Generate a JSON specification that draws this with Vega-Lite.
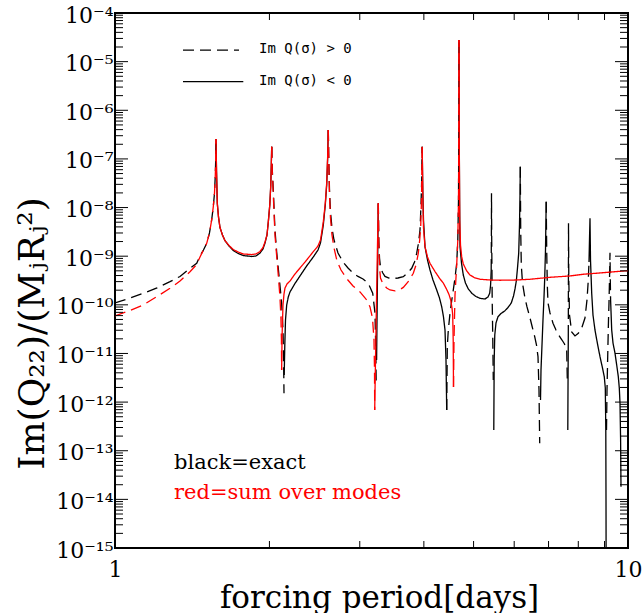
{
"$schema": "https://vega.github.io/schema/vega-lite/v6.json",
"width": 513, "height": 535,
"autosize": {"type": "none"},
"padding": {"left": 115, "top": 13, "right": 14, "bottom": 65},
"background": "white",
"config": {
  "view": {"stroke": "black", "strokeWidth": 2},
  "axis": {"domain": false, "grid": false, "ticks": false, "labelFlush": false, "labelOverlap": false, "labelColor": "black", "titleColor": "black", "labelFont": "DejaVu Serif", "titleFont": "DejaVu Serif", "titleFontWeight": "normal"}
},
"datasets": {
"exact": [
{"s":"e1","g":"pos","P":1,"V":1.09e-10},{"s":"e1","g":"pos","P":1.0697,"V":1.38e-10},{"s":"e1","g":"pos","P":1.1355,"V":1.73e-10},{"s":"e1","g":"pos","P":1.2074,"V":2.22e-10},{"s":"e1","g":"pos","P":1.28,"V":2.99e-10},{"s":"e1","g":"pos","P":1.3388,"V":3.83e-10},{"s":"e1","g":"pos","P":1.4002,"V":5.64e-10},{"s":"e1","g":"pos","P":1.443,"V":7.14e-10},{"s":"e1","g":"pos","P":1.4645,"V":1.009e-9},{"s":"e1","g":"pos","P":1.4875,"V":1.34e-9},{"s":"e1","g":"pos","P":1.5092,"V":1.84e-9},{"s":"e1","g":"pos","P":1.5282,"V":3.0e-9},{"s":"e1","g":"pos","P":1.5432,"V":5.55e-9},{"s":"e1","g":"pos","P":1.5545,"V":1.04e-8},{"s":"e1","g":"pos","P":1.563,"V":1.99e-8},{"s":"e1","g":"pos","P":1.5687,"V":4.67e-8},{"s":"e1","g":"pos","P":1.5715,"V":9.51e-8},{"s":"e1","g":"pos","P":1.5736,"V":2.57e-7},
{"s":"e2","g":"neg","P":1.5736,"V":2.57e-7},{"s":"e2","g":"neg","P":1.5771,"V":5.92e-8},{"s":"e2","g":"neg","P":1.5828,"V":1.22e-8},{"s":"e2","g":"neg","P":1.5913,"V":6.4e-9},{"s":"e2","g":"neg","P":1.6019,"V":3.89e-9},{"s":"e2","g":"neg","P":1.6198,"V":2.73e-9},{"s":"e2","g":"neg","P":1.6377,"V":2.1e-9},{"s":"e2","g":"neg","P":1.6681,"V":1.62e-9},{"s":"e2","g":"neg","P":1.7006,"V":1.31e-9},{"s":"e2","g":"neg","P":1.7369,"V":1.14e-9},{"s":"e2","g":"neg","P":1.7787,"V":1.03e-9},{"s":"e2","g":"neg","P":1.847,"V":9.86e-10},{"s":"e2","g":"neg","P":1.883,"V":1.01e-9},{"s":"e2","g":"neg","P":1.9171,"V":1.16e-9},{"s":"e2","g":"neg","P":1.9431,"V":1.41e-9},{"s":"e2","g":"neg","P":1.9607,"V":1.87e-9},{"s":"e2","g":"neg","P":1.9783,"V":2.73e-9},{"s":"e2","g":"neg","P":1.9899,"V":5.05e-9},{"s":"e2","g":"neg","P":2.0033,"V":1.13e-8},{"s":"e2","g":"neg","P":2.0115,"V":2.69e-8},{"s":"e2","g":"neg","P":2.0169,"V":7.5e-8},{"s":"e2","g":"neg","P":2.0205,"V":1.78e-7},
{"s":"e3","g":"pos","P":2.0205,"V":1.78e-7},{"s":"e3","g":"pos","P":2.0259,"V":5.92e-8},{"s":"e3","g":"pos","P":2.035,"V":2.3e-8},{"s":"e3","g":"pos","P":2.0505,"V":3.46e-9},{"s":"e3","g":"pos","P":2.0661,"V":1.22e-9},{"s":"e3","g":"pos","P":2.0808,"V":5.71e-10},{"s":"e3","g":"pos","P":2.0966,"V":2.56e-10},{"s":"e3","g":"pos","P":2.1125,"V":1.09e-10},{"s":"e3","g":"pos","P":2.1256,"V":3.04e-11},{"s":"e3","g":"pos","P":2.1314,"V":7.35e-12},{"s":"e3","g":"pos","P":2.1352,"V":1.52e-12},
{"s":"e4","g":"neg","P":2.1371,"V":3.61e-12},{"s":"e4","g":"neg","P":2.1429,"V":1.49e-11},{"s":"e4","g":"neg","P":2.1496,"V":4.88e-11},{"s":"e4","g":"neg","P":2.1612,"V":9.93e-11},{"s":"e4","g":"neg","P":2.1766,"V":1.45e-10},{"s":"e4","g":"neg","P":2.1935,"V":1.84e-10},{"s":"e4","g":"neg","P":2.2433,"V":2.75e-10},{"s":"e4","g":"neg","P":2.2941,"V":3.92e-10},{"s":"e4","g":"neg","P":2.3642,"V":6.3e-10},{"s":"e4","g":"neg","P":2.4353,"V":9.64e-10},{"s":"e4","g":"neg","P":2.4872,"V":1.34e-9},{"s":"e4","g":"neg","P":2.5152,"V":1.87e-9},{"s":"e4","g":"neg","P":2.5471,"V":4.38e-9},{"s":"e4","g":"neg","P":2.57,"V":1.13e-8},{"s":"e4","g":"neg","P":2.5863,"V":2.91e-8},{"s":"e4","g":"neg","P":2.5967,"V":9.51e-8},{"s":"e4","g":"neg","P":2.6049,"V":3.94e-7},
{"s":"e5","g":"pos","P":2.6049,"V":3.94e-7},{"s":"e5","g":"pos","P":2.6107,"V":9.51e-8},{"s":"e5","g":"pos","P":2.6189,"V":2.3e-8},{"s":"e5","g":"pos","P":2.6306,"V":8.11e-9},{"s":"e5","g":"pos","P":2.6482,"V":3.8e-9},{"s":"e5","g":"pos","P":2.6724,"V":2.15e-9},{"s":"e5","g":"pos","P":2.7208,"V":1.16e-9},{"s":"e5","g":"pos","P":2.7825,"V":7.6e-10},{"s":"e5","g":"pos","P":2.8457,"V":5.71e-10},{"s":"e5","g":"pos","P":2.9103,"V":4.52e-10},{"s":"e5","g":"pos","P":2.9763,"V":3.83e-10},{"s":"e5","g":"pos","P":3.0439,"V":3.4e-10},{"s":"e5","g":"pos","P":3.1171,"V":2.77e-10},{"s":"e5","g":"pos","P":3.1794,"V":1.73e-10},{"s":"e5","g":"pos","P":3.2123,"V":6.7e-11},{"s":"e5","g":"pos","P":3.2239,"V":1.18e-11},{"s":"e5","g":"pos","P":3.2297,"V":2.25e-12},
{"s":"e6","g":"neg","P":3.2355,"V":7.35e-12},{"s":"e6","g":"neg","P":3.2413,"V":4.88e-11},{"s":"e6","g":"neg","P":3.25,"V":6.59e-10},{"s":"e6","g":"neg","P":3.2604,"V":1.22e-8},
{"s":"e7","g":"pos","P":3.2604,"V":1.22e-8},{"s":"e7","g":"pos","P":3.2677,"V":2.15e-9},{"s":"e7","g":"pos","P":3.278,"V":9.18e-10},{"s":"e7","g":"pos","P":3.2926,"V":6.0e-10},{"s":"e7","g":"pos","P":3.3226,"V":4.62e-10},{"s":"e7","g":"pos","P":3.3598,"V":3.83e-10},{"s":"e7","g":"pos","P":3.4206,"V":3.56e-10},{"s":"e7","g":"pos","P":3.4874,"V":3.48e-10},{"s":"e7","g":"pos","P":3.5617,"V":3.56e-10},{"s":"e7","g":"pos","P":3.6475,"V":3.79e-10},{"s":"e7","g":"pos","P":3.7252,"V":4.62e-10},{"s":"e7","g":"pos","P":3.7876,"V":5.64e-10},{"s":"e7","g":"pos","P":3.8355,"V":7.6e-10},{"s":"e7","g":"pos","P":3.8736,"V":1.15e-9},{"s":"e7","g":"pos","P":3.905,"V":1.87e-9},{"s":"e7","g":"pos","P":3.9313,"V":3.46e-9},{"s":"e7","g":"pos","P":3.949,"V":1.13e-8},{"s":"e7","g":"pos","P":3.9615,"V":3.69e-8},{"s":"e7","g":"pos","P":3.9704,"V":1.78e-7},
{"s":"e8","g":"neg","P":3.9704,"V":1.78e-7},{"s":"e8","g":"neg","P":3.9811,"V":2.3e-8},{"s":"e8","g":"neg","P":3.9936,"V":5.55e-9},{"s":"e8","g":"neg","P":4.0206,"V":1.57e-9},{"s":"e8","g":"neg","P":4.0659,"V":8.36e-10},{"s":"e8","g":"neg","P":4.1118,"V":5.2e-10},{"s":"e8","g":"neg","P":4.1675,"V":3.24e-10},{"s":"e8","g":"neg","P":4.2374,"V":2.02e-10},{"s":"e8","g":"neg","P":4.2909,"V":1.38e-10},{"s":"e8","g":"neg","P":4.3335,"V":9.16e-11},{"s":"e8","g":"neg","P":4.3687,"V":5.62e-11},{"s":"e8","g":"neg","P":4.3982,"V":3.04e-11},{"s":"e8","g":"neg","P":4.418,"V":7.35e-12},{"s":"e8","g":"neg","P":4.432,"V":6.89e-13},
{"s":"e9","g":"pos","P":4.432,"V":6.89e-13},{"s":"e9","g":"pos","P":4.4439,"V":1.38e-11},{"s":"e9","g":"pos","P":4.4639,"V":3.04e-11},{"s":"e9","g":"pos","P":4.498,"V":6.7e-11},{"s":"e9","g":"pos","P":4.5345,"V":1.26e-10},{"s":"e9","g":"pos","P":4.5651,"V":2.02e-10},{"s":"e9","g":"pos","P":4.6001,"V":3.56e-10},{"s":"e9","g":"pos","P":4.6353,"V":7.14e-10},{"s":"e9","g":"pos","P":4.6583,"V":2.15e-9},{"s":"e9","g":"pos","P":4.6729,"V":1.43e-8},{"s":"e9","g":"pos","P":4.6793,"V":3.94e-7},{"s":"e9","g":"pos","P":4.6835,"V":2.79e-5},
{"s":"e10","g":"neg","P":4.6835,"V":2.79e-5},{"s":"e10","g":"neg","P":4.6877,"V":3.94e-7},{"s":"e10","g":"neg","P":4.6961,"V":1.43e-8},{"s":"e10","g":"neg","P":4.7045,"V":1.57e-9},{"s":"e10","g":"neg","P":4.7363,"V":7.24e-10},{"s":"e10","g":"neg","P":4.7744,"V":4.1e-10},{"s":"e10","g":"neg","P":4.8213,"V":2.81e-10},{"s":"e10","g":"neg","P":4.883,"V":2.12e-10},{"s":"e10","g":"neg","P":4.9649,"V":1.71e-10},{"s":"e10","g":"neg","P":5.0548,"V":1.48e-10},{"s":"e10","g":"neg","P":5.1464,"V":1.36e-10},{"s":"e10","g":"neg","P":5.2631,"V":1.32e-10},{"s":"e10","g":"neg","P":5.3347,"V":1.45e-10},{"s":"e10","g":"neg","P":5.3754,"V":1.73e-10},{"s":"e10","g":"neg","P":5.3971,"V":2.56e-10},{"s":"e10","g":"neg","P":5.4117,"V":5.2e-10},
{"s":"e11","g":"pos","P":5.4117,"V":5.2e-10},{"s":"e11","g":"pos","P":5.4166,"V":3.46e-9},{"s":"e11","g":"pos","P":5.419,"V":1.96e-8},{"s":"e11","g":"pos","P":5.4239,"V":2.15e-9},{"s":"e11","g":"pos","P":5.436,"V":1.26e-10},{"s":"e11","g":"pos","P":5.4506,"V":1.89e-11},{"s":"e11","g":"pos","P":5.4628,"V":2.85e-12},
{"s":"e12","g":"neg","P":5.475,"V":2.67e-13},{"s":"e12","g":"neg","P":5.4848,"V":7.35e-12},{"s":"e12","g":"neg","P":5.4994,"V":2.4e-11},{"s":"e12","g":"neg","P":5.5296,"V":4.24e-11},{"s":"e12","g":"neg","P":5.5795,"V":5.7e-11},{"s":"e12","g":"neg","P":5.6551,"V":6.64e-11},{"s":"e12","g":"neg","P":5.7498,"V":7.46e-11},{"s":"e12","g":"neg","P":5.8355,"V":8.81e-11},{"s":"e12","g":"neg","P":5.9226,"V":1.09e-10},{"s":"e12","g":"neg","P":5.9814,"V":1.52e-10},{"s":"e12","g":"neg","P":6.0219,"V":2.12e-10},{"s":"e12","g":"neg","P":6.0571,"V":3.09e-10},{"s":"e12","g":"neg","P":6.0898,"V":5.71e-10},{"s":"e12","g":"neg","P":6.1227,"V":1.15e-9},{"s":"e12","g":"neg","P":6.1448,"V":4.38e-9},{"s":"e12","g":"neg","P":6.1586,"V":1.81e-8},{"s":"e12","g":"neg","P":6.1669,"V":6.92e-8},
{"s":"e13","g":"pos","P":6.1669,"V":6.92e-8},{"s":"e13","g":"pos","P":6.178,"V":3.46e-9},{"s":"e13","g":"pos","P":6.1946,"V":6.59e-10},{"s":"e13","g":"pos","P":6.2279,"V":2.81e-10},{"s":"e13","g":"pos","P":6.2899,"V":1.47e-10},{"s":"e13","g":"pos","P":6.3551,"V":9.04e-11},{"s":"e13","g":"pos","P":6.4325,"V":5.7e-11},{"s":"e13","g":"pos","P":6.4994,"V":3.67e-11},{"s":"e13","g":"pos","P":6.5786,"V":2.21e-11},{"s":"e13","g":"pos","P":6.632,"V":1.49e-11},{"s":"e13","g":"pos","P":6.6767,"V":8.59e-12},{"s":"e13","g":"pos","P":6.7068,"V":1.77e-12},{"s":"e13","g":"pos","P":6.7279,"V":1.42e-13},
{"s":"e14","g":"neg","P":6.7521,"V":1.11e-12},{"s":"e14","g":"neg","P":6.7672,"V":4.57e-12},{"s":"e14","g":"neg","P":6.7974,"V":1.49e-11},{"s":"e14","g":"neg","P":6.8277,"V":4.88e-11},{"s":"e14","g":"neg","P":6.858,"V":1.38e-10},{"s":"e14","g":"neg","P":6.8792,"V":3.24e-10},{"s":"e14","g":"neg","P":6.9053,"V":1.34e-9},{"s":"e14","g":"neg","P":6.9271,"V":1.32e-8},
{"s":"e15","g":"pos","P":6.9271,"V":1.32e-8},{"s":"e15","g":"pos","P":6.9427,"V":1.34e-9},{"s":"e15","g":"pos","P":6.9613,"V":2.56e-10},{"s":"e15","g":"pos","P":6.9831,"V":1.09e-10},{"s":"e15","g":"pos","P":7.0461,"V":6.79e-11},{"s":"e15","g":"pos","P":7.1416,"V":4.17e-11},{"s":"e15","g":"pos","P":7.2384,"V":3.04e-11},{"s":"e15","g":"pos","P":7.3598,"V":2.21e-11},{"s":"e15","g":"pos","P":7.4362,"V":1.89e-11},{"s":"e15","g":"pos","P":7.52,"V":1.57e-11},{"s":"e15","g":"pos","P":7.5947,"V":1.18e-11},{"s":"e15","g":"pos","P":7.6152,"V":2.85e-12},
{"s":"e16","g":"neg","P":7.6323,"V":2.67e-13},{"s":"e16","g":"neg","P":7.6408,"V":2.85e-12},{"s":"e16","g":"neg","P":7.6494,"V":2.29e-11},
{"s":"e17","g":"pos","P":7.6494,"V":2.29e-11},{"s":"e17","g":"pos","P":7.653,"V":3.24e-10},{"s":"e17","g":"pos","P":7.6564,"V":4.74e-9},{"s":"e17","g":"pos","P":7.6667,"V":3.24e-10},{"s":"e17","g":"pos","P":7.6908,"V":6.18e-11},{"s":"e17","g":"pos","P":7.7668,"V":2.77e-11},{"s":"e17","g":"pos","P":7.8825,"V":2.29e-11},{"s":"e17","g":"pos","P":8.0006,"V":2.6e-11},{"s":"e17","g":"pos","P":8.1233,"V":3.34e-11},{"s":"e17","g":"pos","P":8.2438,"V":5.36e-11},{"s":"e17","g":"pos","P":8.3188,"V":1.26e-10},{"s":"e17","g":"pos","P":8.3678,"V":3.24e-10},{"s":"e17","g":"pos","P":8.3942,"V":7.6e-10},
{"s":"e18","g":"neg","P":8.3942,"V":7.6e-10},{"s":"e18","g":"neg","P":8.4169,"V":2.73e-9},{"s":"e18","g":"neg","P":8.432,"V":6.01e-9},{"s":"e18","g":"neg","P":8.451,"V":8.36e-10},{"s":"e18","g":"neg","P":8.4964,"V":1.73e-10},{"s":"e18","g":"neg","P":8.5457,"V":6.18e-11},{"s":"e18","g":"neg","P":8.622,"V":3.04e-11},{"s":"e18","g":"neg","P":8.7206,"V":1.57e-11},{"s":"e18","g":"neg","P":8.8191,"V":8.59e-12},{"s":"e18","g":"neg","P":8.9183,"V":5.02e-12},{"s":"e18","g":"neg","P":8.99,"V":3.33e-12},{"s":"e18","g":"neg","P":9.0314,"V":1.95e-12},{"s":"e18","g":"neg","P":9.0518,"V":2.67e-13},{"s":"e18","g":"neg","P":9.0599,"V":9.73e-15},{"s":"e18","g":"neg","P":9.064,"V":5.68e-16},
{"s":"e19","g":"pos","P":9.0803,"V":2.67e-13},{"s":"e19","g":"pos","P":9.1006,"V":1.77e-12},{"s":"e19","g":"pos","P":9.1292,"V":8.59e-12},{"s":"e19","g":"pos","P":9.1617,"V":4.88e-11},{"s":"e19","g":"pos","P":9.1824,"V":1.09e-10},{"s":"e19","g":"pos","P":9.2031,"V":3.24e-10},{"s":"e19","g":"pos","P":9.2238,"V":1.18e-9},{"s":"e19","g":"pos","P":9.2362,"V":3.24e-10},{"s":"e19","g":"pos","P":9.2486,"V":1.26e-10},
{"s":"e20","g":"neg","P":9.2486,"V":1.26e-10},{"s":"e20","g":"neg","P":9.2944,"V":3.04e-11},{"s":"e20","g":"neg","P":9.349,"V":1.64e-11},{"s":"e20","g":"neg","P":9.4333,"V":1.01e-11},{"s":"e20","g":"neg","P":9.5055,"V":5.79e-12},{"s":"e20","g":"neg","P":9.574,"V":3.33e-12},{"s":"e20","g":"neg","P":9.617,"V":1.95e-12},{"s":"e20","g":"neg","P":9.6475,"V":9.46e-13},{"s":"e20","g":"neg","P":9.6735,"V":1.66e-13},{"s":"e20","g":"neg","P":9.6905,"V":1.82e-14}
],
"modes": [
{"s":"m1","g":"pos","P":1,"V":5.9e-11},{"s":"m1","g":"pos","P":1.0697,"V":7.66e-11},{"s":"m1","g":"pos","P":1.1355,"V":9.93e-11},{"s":"m1","g":"pos","P":1.2074,"V":1.48e-10},{"s":"m1","g":"pos","P":1.28,"V":2.19e-10},{"s":"m1","g":"pos","P":1.3388,"V":3.09e-10},{"s":"m1","g":"pos","P":1.4002,"V":4.8e-10},{"s":"m1","g":"pos","P":1.443,"V":6.75e-10},{"s":"m1","g":"pos","P":1.4645,"V":9.64e-10},{"s":"m1","g":"pos","P":1.4875,"V":1.34e-9},{"s":"m1","g":"pos","P":1.5092,"V":1.84e-9},{"s":"m1","g":"pos","P":1.5282,"V":3.0e-9},{"s":"m1","g":"pos","P":1.5432,"V":5.55e-9},{"s":"m1","g":"pos","P":1.5545,"V":1.04e-8},{"s":"m1","g":"pos","P":1.563,"V":1.99e-8},{"s":"m1","g":"pos","P":1.5687,"V":4.67e-8},{"s":"m1","g":"pos","P":1.5715,"V":9.51e-8},{"s":"m1","g":"pos","P":1.5736,"V":2.57e-7},
{"s":"m2","g":"neg","P":1.5736,"V":2.57e-7},{"s":"m2","g":"neg","P":1.5771,"V":5.92e-8},{"s":"m2","g":"neg","P":1.5828,"V":1.22e-8},{"s":"m2","g":"neg","P":1.5913,"V":6.4e-9},{"s":"m2","g":"neg","P":1.6019,"V":3.89e-9},{"s":"m2","g":"neg","P":1.6198,"V":2.73e-9},{"s":"m2","g":"neg","P":1.6377,"V":2.1e-9},{"s":"m2","g":"neg","P":1.6681,"V":1.66e-9},{"s":"m2","g":"neg","P":1.7006,"V":1.37e-9},{"s":"m2","g":"neg","P":1.7369,"V":1.22e-9},{"s":"m2","g":"neg","P":1.7787,"V":1.11e-9},{"s":"m2","g":"neg","P":1.847,"V":1.08e-9},{"s":"m2","g":"neg","P":1.883,"V":1.11e-9},{"s":"m2","g":"neg","P":1.9171,"V":1.25e-9},{"s":"m2","g":"neg","P":1.9431,"V":1.51e-9},{"s":"m2","g":"neg","P":1.9607,"V":1.96e-9},{"s":"m2","g":"neg","P":1.9783,"V":2.73e-9},{"s":"m2","g":"neg","P":1.9899,"V":5.05e-9},{"s":"m2","g":"neg","P":2.0033,"V":1.13e-8},{"s":"m2","g":"neg","P":2.0115,"V":2.69e-8},{"s":"m2","g":"neg","P":2.0169,"V":7.5e-8},{"s":"m2","g":"neg","P":2.0205,"V":1.78e-7},
{"s":"m3","g":"pos","P":2.0205,"V":1.78e-7},{"s":"m3","g":"pos","P":2.0259,"V":5.38e-8},{"s":"m3","g":"pos","P":2.035,"V":1.81e-8},{"s":"m3","g":"pos","P":2.0505,"V":2.73e-9},{"s":"m3","g":"pos","P":2.0661,"V":1.009e-9},{"s":"m3","g":"pos","P":2.0808,"V":4.1e-10},{"s":"m3","g":"pos","P":2.0966,"V":1.47e-10},{"s":"m3","g":"pos","P":2.1061,"V":5.36e-11},{"s":"m3","g":"pos","P":2.1107,"V":1.89e-11},{"s":"m3","g":"pos","P":2.1125,"V":4.57e-12},
{"s":"m4","g":"neg","P":2.1125,"V":4.57e-12},{"s":"m4","g":"neg","P":2.1171,"V":2.4e-11},{"s":"m4","g":"neg","P":2.1256,"V":9.93e-11},{"s":"m4","g":"neg","P":2.1352,"V":1.67e-10},{"s":"m4","g":"neg","P":2.1448,"V":2.22e-10},{"s":"m4","g":"neg","P":2.1641,"V":2.68e-10},{"s":"m4","g":"neg","P":2.1935,"V":3.09e-10},{"s":"m4","g":"neg","P":2.2433,"V":4.31e-10},{"s":"m4","g":"neg","P":2.2941,"V":5.71e-10},{"s":"m4","g":"neg","P":2.3642,"V":8.36e-10},{"s":"m4","g":"neg","P":2.4353,"V":1.24e-9},{"s":"m4","g":"neg","P":2.4872,"V":1.62e-9},{"s":"m4","g":"neg","P":2.5152,"V":2.15e-9},{"s":"m4","g":"neg","P":2.5471,"V":5.05e-9},{"s":"m4","g":"neg","P":2.57,"V":1.24e-8},{"s":"m4","g":"neg","P":2.5863,"V":3.2e-8},{"s":"m4","g":"neg","P":2.5967,"V":1.04e-7},{"s":"m4","g":"neg","P":2.6049,"V":3.94e-7},
{"s":"m5","g":"pos","P":2.6049,"V":3.94e-7},{"s":"m5","g":"pos","P":2.6107,"V":8.65e-8},{"s":"m5","g":"pos","P":2.6189,"V":1.81e-8},{"s":"m5","g":"pos","P":2.6306,"V":6.1e-9},{"s":"m5","g":"pos","P":2.6482,"V":2.73e-9},{"s":"m5","g":"pos","P":2.6724,"V":1.48e-9},{"s":"m5","g":"pos","P":2.7086,"V":7.96e-10},{"s":"m5","g":"pos","P":2.7578,"V":5.2e-10},{"s":"m5","g":"pos","P":2.833,"V":3.4e-10},{"s":"m5","g":"pos","P":2.9103,"V":2.44e-10},{"s":"m5","g":"pos","P":3.0032,"V":1.84e-10},{"s":"m5","g":"pos","P":3.0949,"V":1.26e-10},{"s":"m5","g":"pos","P":3.1411,"V":9.04e-11},{"s":"m5","g":"pos","P":3.1765,"V":5.36e-11},{"s":"m5","g":"pos","P":3.1979,"V":1.89e-11},{"s":"m5","g":"pos","P":3.2052,"V":4.57e-12},{"s":"m5","g":"pos","P":3.208,"V":6.89e-13},
{"s":"m6","g":"neg","P":3.208,"V":6.89e-13},{"s":"m6","g":"neg","P":3.2195,"V":7.35e-12},{"s":"m6","g":"neg","P":3.2341,"V":1.26e-10},{"s":"m6","g":"neg","P":3.2486,"V":1.7e-9},{"s":"m6","g":"neg","P":3.2604,"V":1.22e-8},
{"s":"m7","g":"pos","P":3.2604,"V":1.22e-8},{"s":"m7","g":"pos","P":3.2677,"V":1.7e-9},{"s":"m7","g":"pos","P":3.278,"V":5.71e-10},{"s":"m7","g":"pos","P":3.2926,"V":3.56e-10},{"s":"m7","g":"pos","P":3.3298,"V":2.68e-10},{"s":"m7","g":"pos","P":3.3855,"V":2.22e-10},{"s":"m7","g":"pos","P":3.436,"V":2.02e-10},{"s":"m7","g":"pos","P":3.5141,"V":1.93e-10},{"s":"m7","g":"pos","P":3.5939,"V":2.07e-10},{"s":"m7","g":"pos","P":3.6475,"V":2.28e-10},{"s":"m7","g":"pos","P":3.7252,"V":2.95e-10},{"s":"m7","g":"pos","P":3.8149,"V":4.45e-10},{"s":"m7","g":"pos","P":3.8614,"V":6.59e-10},{"s":"m7","g":"pos","P":3.9015,"V":1.15e-9},{"s":"m7","g":"pos","P":3.9261,"V":2.15e-9},{"s":"m7","g":"pos","P":3.9438,"V":4.04e-9},{"s":"m7","g":"pos","P":3.9579,"V":1.43e-8},{"s":"m7","g":"pos","P":3.9704,"V":1.78e-7},
{"s":"m8","g":"neg","P":3.9704,"V":1.78e-7},{"s":"m8","g":"neg","P":3.9811,"V":1.81e-8},{"s":"m8","g":"neg","P":3.9936,"V":3.8e-9},{"s":"m8","g":"neg","P":4.0206,"V":1.57e-9},{"s":"m8","g":"neg","P":4.0659,"V":9.64e-10},{"s":"m8","g":"neg","P":4.1118,"V":7.14e-10},{"s":"m8","g":"neg","P":4.2051,"V":4.84e-10},{"s":"m8","g":"neg","P":4.3006,"V":3.4e-10},{"s":"m8","g":"neg","P":4.3648,"V":2.81e-10},{"s":"m8","g":"neg","P":4.432,"V":2.07e-10},{"s":"m8","g":"neg","P":4.4778,"V":1.63e-10},{"s":"m8","g":"neg","P":4.5122,"V":1.26e-10},{"s":"m8","g":"neg","P":4.5385,"V":8.61e-11},{"s":"m8","g":"neg","P":4.5528,"V":6.18e-11},{"s":"m8","g":"neg","P":4.5631,"V":1.89e-11},{"s":"m8","g":"neg","P":4.5692,"V":2.05e-12},
{"s":"m9","g":"pos","P":4.5692,"V":2.05e-12},{"s":"m9","g":"pos","P":4.5795,"V":1.89e-11},{"s":"m9","g":"pos","P":4.6001,"V":1.59e-10},{"s":"m9","g":"pos","P":4.6353,"V":6.59e-10},{"s":"m9","g":"pos","P":4.6583,"V":2.15e-9},{"s":"m9","g":"pos","P":4.6729,"V":1.43e-8},{"s":"m9","g":"pos","P":4.6793,"V":3.94e-7},{"s":"m9","g":"pos","P":4.6835,"V":2.79e-5},
{"s":"m10","g":"neg","P":4.6835,"V":2.79e-5},{"s":"m10","g":"neg","P":4.6898,"V":1.52e-7},{"s":"m10","g":"neg","P":4.6982,"V":5.55e-9},{"s":"m10","g":"neg","P":4.715,"V":1.7e-9},{"s":"m10","g":"neg","P":4.7402,"V":9.77e-10},{"s":"m10","g":"neg","P":4.7744,"V":6.92e-10},{"s":"m10","g":"neg","P":4.8482,"V":4.97e-10},{"s":"m10","g":"neg","P":4.9205,"V":4.1e-10},{"s":"m10","g":"neg","P":5.0321,"V":3.56e-10},{"s":"m10","g":"neg","P":5.1464,"V":3.35e-10},{"s":"m10","g":"neg","P":5.3826,"V":3.24e-10},{"s":"m10","g":"neg","P":5.6297,"V":3.2e-10},{"s":"m10","g":"neg","P":6.0679,"V":3.24e-10},{"s":"m10","g":"neg","P":6.4413,"V":3.35e-10},{"s":"m10","g":"neg","P":7.0461,"V":3.68e-10},{"s":"m10","g":"neg","P":7.708,"V":3.92e-10},{"s":"m10","g":"neg","P":8.1822,"V":4.25e-10},{"s":"m10","g":"neg","P":8.8191,"V":4.52e-10},{"s":"m10","g":"neg","P":9.4333,"V":4.8e-10},{"s":"m10","g":"neg","P":10,"V":5.03e-10}
],
"keylines": [
{"P":1.3569,"P2":1.7447,"V":1.73e-5,"g":"pos"},
{"P":1.3569,"P2":1.7787,"V":3.87e-6,"g":"neg"}
],
"keytext": [
{"P":1.9086,"V":1.82e-5,"t":"Im Q(σ) > 0"},
{"P":1.9086,"V":4.0e-6,"t":"Im Q(σ) < 0"}
],
"notes": [
{"P":1.3032,"V":4.22e-14,"t":"black=exact","c":"black"},
{"P":1.3032,"V":1.02e-14,"t":"red=sum over modes","c":"#ff0000"}
],
"yt": [
{"V":1e-15,"k":"major"},{"V":2e-15,"k":"minor"},{"V":3e-15,"k":"minor"},{"V":4e-15,"k":"minor"},{"V":5e-15,"k":"minor"},{"V":6e-15,"k":"minor"},{"V":7e-15,"k":"minor"},{"V":8e-15,"k":"minor"},{"V":9e-15,"k":"minor"},
{"V":1e-14,"k":"major"},{"V":2e-14,"k":"minor"},{"V":3e-14,"k":"minor"},{"V":4e-14,"k":"minor"},{"V":5e-14,"k":"minor"},{"V":6e-14,"k":"minor"},{"V":7e-14,"k":"minor"},{"V":8e-14,"k":"minor"},{"V":9e-14,"k":"minor"},
{"V":1e-13,"k":"major"},{"V":2e-13,"k":"minor"},{"V":3e-13,"k":"minor"},{"V":4e-13,"k":"minor"},{"V":5e-13,"k":"minor"},{"V":6e-13,"k":"minor"},{"V":7e-13,"k":"minor"},{"V":8e-13,"k":"minor"},{"V":9e-13,"k":"minor"},
{"V":1e-12,"k":"major"},{"V":2e-12,"k":"minor"},{"V":3e-12,"k":"minor"},{"V":4e-12,"k":"minor"},{"V":5e-12,"k":"minor"},{"V":6e-12,"k":"minor"},{"V":7e-12,"k":"minor"},{"V":8e-12,"k":"minor"},{"V":9e-12,"k":"minor"},
{"V":1e-11,"k":"major"},{"V":2e-11,"k":"minor"},{"V":3e-11,"k":"minor"},{"V":4e-11,"k":"minor"},{"V":5e-11,"k":"minor"},{"V":6e-11,"k":"minor"},{"V":7e-11,"k":"minor"},{"V":8e-11,"k":"minor"},{"V":9e-11,"k":"minor"},
{"V":1e-10,"k":"major"},{"V":2e-10,"k":"minor"},{"V":3e-10,"k":"minor"},{"V":4e-10,"k":"minor"},{"V":5e-10,"k":"minor"},{"V":6e-10,"k":"minor"},{"V":7e-10,"k":"minor"},{"V":8e-10,"k":"minor"},{"V":9e-10,"k":"minor"},
{"V":1e-9,"k":"major"},{"V":2e-9,"k":"minor"},{"V":3e-9,"k":"minor"},{"V":4e-9,"k":"minor"},{"V":5e-9,"k":"minor"},{"V":6e-9,"k":"minor"},{"V":7e-9,"k":"minor"},{"V":8e-9,"k":"minor"},{"V":9e-9,"k":"minor"},
{"V":1e-8,"k":"major"},{"V":2e-8,"k":"minor"},{"V":3e-8,"k":"minor"},{"V":4e-8,"k":"minor"},{"V":5e-8,"k":"minor"},{"V":6e-8,"k":"minor"},{"V":7e-8,"k":"minor"},{"V":8e-8,"k":"minor"},{"V":9e-8,"k":"minor"},
{"V":1e-7,"k":"major"},{"V":2e-7,"k":"minor"},{"V":3e-7,"k":"minor"},{"V":4e-7,"k":"minor"},{"V":5e-7,"k":"minor"},{"V":6e-7,"k":"minor"},{"V":7e-7,"k":"minor"},{"V":8e-7,"k":"minor"},{"V":9e-7,"k":"minor"},
{"V":1e-6,"k":"major"},{"V":2e-6,"k":"minor"},{"V":3e-6,"k":"minor"},{"V":4e-6,"k":"minor"},{"V":5e-6,"k":"minor"},{"V":6e-6,"k":"minor"},{"V":7e-6,"k":"minor"},{"V":8e-6,"k":"minor"},{"V":9e-6,"k":"minor"},
{"V":1e-5,"k":"major"},{"V":2e-5,"k":"minor"},{"V":3e-5,"k":"minor"},{"V":4e-5,"k":"minor"},{"V":5e-5,"k":"minor"},{"V":6e-5,"k":"minor"},{"V":7e-5,"k":"minor"},{"V":8e-5,"k":"minor"},{"V":9e-5,"k":"minor"},
{"V":1e-4,"k":"major"}
],
"xt": [{"P":2},{"P":3},{"P":4},{"P":5},{"P":6},{"P":7},{"P":8},{"P":9}]
},
"layer": [
{
 "data": {"name": "exact"},
 "mark": {"type": "line", "color": "black", "strokeWidth": 1.3, "clip": true},
 "encoding": {
  "x": {"field": "P", "type": "quantitative", "scale": {"type": "log", "domain": [1, 10], "nice": false},
   "axis": {"orient": "bottom", "values": [1, 10], "labelFontSize": 22, "labelPadding": 11, "labelFlush": false, "labelAlign": "center",
    "labelExpr": "datum.value == 1 ? '1' : '10'",
    "title": "forcing period[days]", "titleFontSize": 31, "titleX": 264, "titleY": 59, "titleBaseline": "alphabetic", "titleAlign": "center"}},
  "y": {"field": "V", "type": "quantitative", "scale": {"type": "log", "domain": [1e-15, 1e-4], "nice": false},
   "axis": {"orient": "left",
    "values": [1e-15,1e-14,1e-13,1e-12,1e-11,1e-10,1e-9,1e-8,1e-7,1e-6,1e-5,1e-4],
    "labelFontSize": 22, "labelPadding": 2, "labelBaseline": "middle", "labelOffset": 2, "labelFlush": false,
    "labelExpr": "'10⁻' + (round(-log(datum.value)/LN10) >= 10 ? '¹' : '') + substring('⁰¹²³⁴⁵⁶⁷⁸⁹', round(-log(datum.value)/LN10) % 10, round(-log(datum.value)/LN10) % 10 + 1)",
    "title": "Im(Q₂₂)/(MⱼRⱼ²)", "titleFontSize": 36, "titleX": -83, "titleY": 320, "titleAngle": 270, "titleBaseline": "middle", "titleAlign": "center"}},
  "strokeDash": {"field": "g", "type": "nominal", "scale": {"domain": ["pos", "neg"], "range": [[11, 6], [1, 0]]}, "legend": null},
  "detail": {"field": "s", "type": "nominal"}
 }
},
{
 "data": {"name": "modes"},
 "mark": {"type": "line", "color": "#ff0000", "strokeWidth": 1.3, "clip": true},
 "encoding": {
  "x": {"field": "P", "type": "quantitative"},
  "y": {"field": "V", "type": "quantitative"},
  "strokeDash": {"field": "g", "type": "nominal", "legend": null},
  "detail": {"field": "s", "type": "nominal"}
 }
},
{
 "data": {"name": "keylines"},
 "mark": {"type": "rule", "color": "black", "strokeWidth": 1.3},
 "encoding": {
  "x": {"field": "P", "type": "quantitative"},
  "x2": {"field": "P2"},
  "y": {"field": "V", "type": "quantitative"},
  "strokeDash": {"field": "g", "type": "nominal", "legend": null}
 }
},
{
 "data": {"name": "keytext"},
 "mark": {"type": "text", "font": "DejaVu Sans Mono", "fontSize": 14, "align": "left", "baseline": "middle", "color": "black"},
 "encoding": {
  "x": {"field": "P", "type": "quantitative"},
  "y": {"field": "V", "type": "quantitative"},
  "text": {"field": "t", "type": "nominal"}
 }
},
{
 "data": {"name": "notes"},
 "mark": {"type": "text", "font": "DejaVu Serif", "fontSize": 21, "align": "left", "baseline": "alphabetic"},
 "encoding": {
  "x": {"field": "P", "type": "quantitative"},
  "y": {"field": "V", "type": "quantitative"},
  "text": {"field": "t", "type": "nominal"},
  "color": {"field": "c", "type": "nominal", "scale": null}
 }
},
{
 "data": {"name": "yt"},
 "mark": {"type": "tick", "orient": "horizontal", "clip": true, "color": "black", "thickness": 1, "opacity": 1},
 "encoding": {
  "x": {"datum": 1, "type": "quantitative"},
  "y": {"field": "V", "type": "quantitative"},
  "size": {"field": "k", "type": "ordinal", "scale": {"domain": ["major", "minor"], "range": [26, 16]}, "legend": null}
 }
},
{
 "data": {"name": "yt"},
 "mark": {"type": "tick", "orient": "horizontal", "clip": true, "color": "black", "thickness": 1, "opacity": 1},
 "encoding": {
  "x": {"datum": 10, "type": "quantitative"},
  "y": {"field": "V", "type": "quantitative"},
  "size": {"field": "k", "type": "ordinal", "legend": null}
 }
},
{
 "data": {"name": "xt"},
 "mark": {"type": "tick", "orient": "vertical", "clip": true, "color": "black", "thickness": 1, "size": 14, "opacity": 1},
 "encoding": {
  "x": {"field": "P", "type": "quantitative"},
  "y": {"datum": 1e-15, "type": "quantitative"}
 }
},
{
 "data": {"name": "xt"},
 "mark": {"type": "tick", "orient": "vertical", "clip": true, "color": "black", "thickness": 1, "size": 14, "opacity": 1},
 "encoding": {
  "x": {"field": "P", "type": "quantitative"},
  "y": {"datum": 1e-4, "type": "quantitative"}
 }
}
]
}
